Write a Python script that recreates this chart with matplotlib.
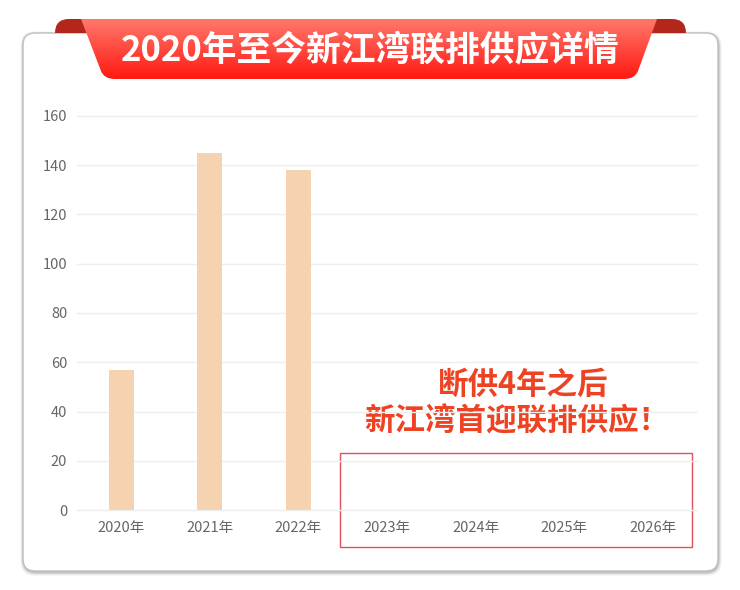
import numpy as np
import matplotlib
matplotlib.use("Agg")
import matplotlib.pyplot as plt
from matplotlib.patches import FancyBboxPatch, PathPatch, Rectangle
from matplotlib.path import Path

plt.rcParams['font.family'] = ['Noto Sans CJK SC', 'DejaVu Sans']

# data
years = ['2020年', '2021年', '2022年', '2023年', '2024年', '2025年', '2026年']
supply = [57, 145, 138, 0, 0, 0, 0]
y_ticks = [0, 20, 40, 60, 80, 100, 120, 140, 160]
title = '2020年至今新江湾联排供应详情'
note_lines = ['断供4年之后', '新江湾首迎联排供应！']

W, H = 740, 590
fig = plt.figure(figsize=(W / 100, H / 100), dpi=100)
fig.patch.set_facecolor('white')

# background layer in pixel coordinates (y down)
bg = fig.add_axes([0, 0, 1, 1], zorder=0)
bg.set_xlim(0, W)
bg.set_ylim(H, 0)
bg.axis('off')

# card with soft shadow
for i, a in enumerate([0.05, 0.08, 0.12]):
    pad = 3 - i
    sh = FancyBboxPatch((23 - pad + 0.5, 33 - pad + 1.5), 695 + 2 * pad, 538 + 2 * pad,
                        boxstyle="round,pad=0,rounding_size=14",
                        facecolor='black', edgecolor='none', alpha=a)
    bg.add_patch(sh)
card = FancyBboxPatch((23, 33), 695, 538, boxstyle="round,pad=0,rounding_size=12",
                      facecolor='white', edgecolor='#bdbdbd', linewidth=1.0)
bg.add_patch(card)

# dark folds of the ribbon
def fold(x0, x1, left=True):
    r = 14
    if left:
        verts = [(x0, 33), (x0, 19 + r), (x0, 19), (x0 + r, 19), (x1, 19), (x1, 33), (x0, 33)]
    else:
        verts = [(x1, 33), (x1, 19 + r), (x1, 19), (x1 - r, 19), (x0, 19), (x0, 33), (x1, 33)]
    codes = [Path.MOVETO, Path.LINETO, Path.CURVE3, Path.CURVE3, Path.LINETO, Path.LINETO, Path.CLOSEPOLY]
    bg.add_patch(PathPatch(Path(verts, codes), facecolor='#b3261b', edgecolor='none', zorder=2))

fold(55, 95, True)
fold(645, 686, False)

# main ribbon with vertical gradient
rv = [(81, 19), (101, 71), (104, 79), (115, 79), (624, 79), (635, 79), (638, 71), (657, 19), (81, 19)]
rc = [Path.MOVETO, Path.LINETO, Path.CURVE3, Path.CURVE3, Path.LINETO, Path.CURVE3, Path.CURVE3,
      Path.LINETO, Path.CLOSEPOLY]
ribbon = PathPatch(Path(rv, rc), facecolor='none', edgecolor='none', zorder=3)
bg.add_patch(ribbon)
top = np.array([1.0, 0.47, 0.42])
bot = np.array([1.0, 0.10, 0.07])
t = np.linspace(0, 1, 64)[:, None]
grad = (top[None, :] * (1 - t) + bot[None, :] * t)[:, None, :]
img = bg.imshow(grad, extent=(81, 657, 79, 19), aspect='auto', zorder=3, interpolation='bilinear')
img.set_clip_path(ribbon)
bg.text(370, 50, title, color='white', fontsize=25, fontweight='bold',
        ha='center', va='center', zorder=4)

# chart
ax = fig.add_axes([77 / W, 80 / H, 620 / W, 394 / H], zorder=1)
ax.patch.set_alpha(0)
x = np.arange(len(years))
ax.bar(x, supply, width=0.28, color='#f5d3b0', zorder=2)
ax.set_xlim(-0.5, len(years) - 0.5)
ax.set_ylim(0, 160)
ax.set_yticks(y_ticks)
ax.set_xticks(x)
ax.set_xticklabels(years)
ax.grid(axis='y', color='#eeeeee', linewidth=1.0, zorder=0)
for g in ax.get_ygridlines():
    g.set_clip_on(False)
for s in ax.spines.values():
    s.set_visible(False)
ax.tick_params(axis='both', length=0, labelsize=10.5, labelcolor='#666666')
ax.tick_params(axis='x', pad=8)
ax.tick_params(axis='y', pad=7)

# highlight for the years without supply
bg.add_patch(Rectangle((340, 453), 352, 94, facecolor='none', edgecolor='#e0505c',
                       linewidth=1.0, zorder=5))
bg.text(523, 385, note_lines[0], color='#ee4222', fontsize=22, fontweight='bold',
        ha='center', va='center', zorder=5)
bg.text(517, 421, note_lines[1], color='#ee4222', fontsize=22, fontweight='bold',
        ha='center', va='center', zorder=5)

fig.savefig('out.png', dpi=100, facecolor='white')
